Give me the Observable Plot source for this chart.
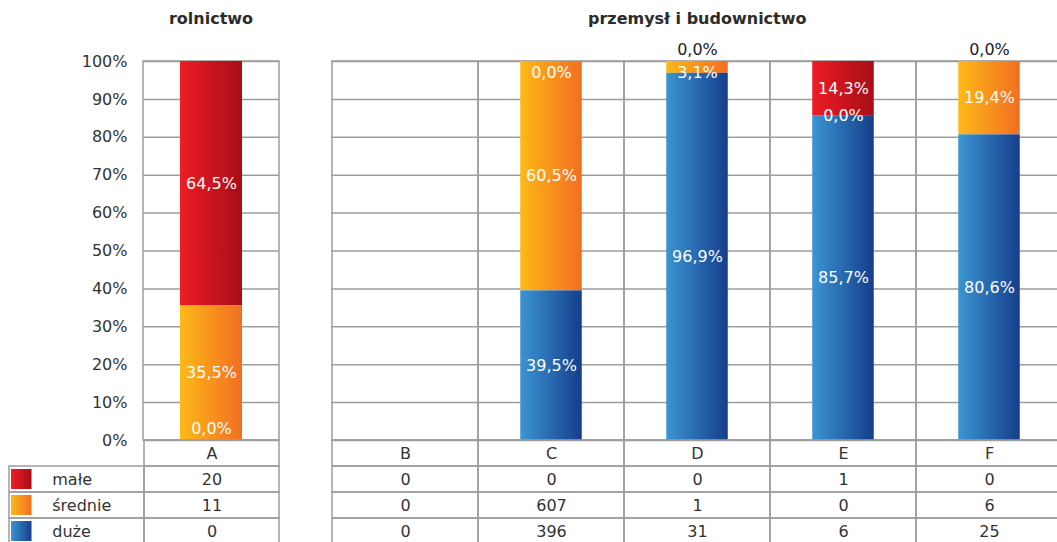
<!DOCTYPE html>
<html><head><meta charset="utf-8">
<script src="https://cdn.jsdelivr.net/npm/d3@7"></script>
<script src="https://cdn.jsdelivr.net/npm/@observablehq/plot@0.6"></script>
<style>
html,body{margin:0;padding:0;background:#fff;overflow:hidden;}
#root{position:relative;width:1057px;height:542px;overflow:hidden;font-family:"DejaVu Sans",sans-serif;}
.title{position:absolute;top:9px;font-weight:bold;font-size:16px;color:#2b2b2b;text-align:center;line-height:19px;}
#root svg.plot, #root svg{max-width:none !important;}
.pos{position:absolute;}
</style></head><body>
<div id="root">
<svg width="0" height="0" style="position:absolute;left:0;top:0">
<defs>
<linearGradient id="gMale" x1="0" x2="1" y1="0" y2="0"><stop offset="0" stop-color="#ee1c25"/><stop offset="1" stop-color="#a60e17"/></linearGradient>
<linearGradient id="gSrednie" x1="0" x2="1" y1="0" y2="0"><stop offset="0" stop-color="#fdb918"/><stop offset="1" stop-color="#f26e22"/></linearGradient>
<linearGradient id="gDuze" x1="0" x2="1" y1="0" y2="0"><stop offset="0" stop-color="#3b95d3"/><stop offset="1" stop-color="#153e8b"/></linearGradient>
</defs></svg>
</div>
<script>
// ---- data ----
const categories = ["A", "B", "C", "D", "E", "F"];
const leftCategories = ["A"];
const rightCategories = ["B", "C", "D", "E", "F"];
const series = ["małe", "średnie", "duże"];
const male = [20, 0, 0, 0, 1, 0];
const srednie = [11, 0, 607, 1, 0, 6];
const duze = [0, 0, 396, 31, 6, 25];
const yTicks = [0, 10, 20, 30, 40, 50, 60, 70, 80, 90, 100];
const titles = ["rolnictwo", "przemysł i budownictwo"];
const zeroLabelAbove = ["D", "F"];

// ---- derived ----
const counts = {"małe": male, "średnie": srednie, "duże": duze};
const fills = {"małe": "url(#gMale)", "średnie": "url(#gSrednie)", "duże": "url(#gDuze)"};
const stackOrder = ["duże", "średnie", "małe"];
const segs = [];
categories.forEach((c, i) => {
  const total = male[i] + srednie[i] + duze[i];
  if (!total) return;
  let acc = 0;
  for (const s of stackOrder) {
    const p = counts[s][i] / total * 100;
    segs.push({cat: c, series: s, y1: acc, y2: acc + p, pct: p});
    acc += p;
  }
});
const fmt = v => v.toFixed(1).replace(".", ",") + "%";
const isAbove = d => d.series === "małe" && d.pct === 0 && zeroLabelAbove.includes(d.cat);
const labelY = d => Math.max(3, Math.min(97, (d.y1 + d.y2) / 2));

const GRID = "#9d9d9d";
const FONT = "DejaVu Sans";

function chart(cats, {width, marginLeft, marginRight, yAxis}) {
  const data = segs.filter(d => cats.includes(d.cat));
  const band = (width - marginLeft - marginRight) / cats.length;
  const inset = (band - 62) / 2;
  return Plot.plot({
    width, height: 450, marginLeft, marginRight, marginTop: 61, marginBottom: 10,
    x: {domain: cats, padding: 0, axis: null},
    y: {domain: [0, 100], axis: yAxis ? undefined : null},
    style: {fontFamily: FONT, fontSize: "16px", background: "transparent", overflow: "visible", color: "#333"},
    marks: [
      Plot.ruleY(yTicks, {stroke: GRID, strokeWidth: 1.5}),
      Plot.barY(cats, {x: d => d, y1: 0, y2: 100, fill: "none", stroke: GRID, strokeWidth: 1.5}),
      yAxis ? Plot.axisY(yTicks, {tickSize: 0, tickPadding: 16, tickFormat: d => d + "%", label: null, fontSize: 16, fill: "#333"}) : null,
      ...series.map(s => Plot.barY(data.filter(d => d.series === s), {
        x: "cat", y1: "y1", y2: "y2", fill: fills[s], insetLeft: inset, insetRight: inset
      })),
      Plot.text(data.filter(d => !isAbove(d)), {x: "cat", y: labelY, text: d => fmt(d.pct), fill: "white", fontSize: 16}),
      Plot.text(data.filter(isAbove), {x: "cat", y: 100, dy: -12, text: d => fmt(d.pct), fill: "#222", fontSize: 16})
    ]
  });
}

function table(cols, legend, {width, marginLeft, marginRight}) {
  const rows = ["hdr", ...series];
  const cells = [];
  cols.forEach(c => {
    const i = categories.indexOf(c);
    cells.push({col: c, row: "hdr", text: c});
    series.forEach(s => cells.push({col: c, row: s, text: String(counts[s][i])}));
  });
  const legCells = legend ? series.map(s => ({col: "leg", row: s, text: s})) : [];
  const xDomain = legend ? ["leg", ...cols] : cols;
  const band = (width - marginLeft - marginRight) / xDomain.length;
  return Plot.plot({
    width, height: 110, marginTop: 1, marginBottom: 5, marginLeft, marginRight,
    x: {domain: xDomain, padding: 0, axis: null},
    y: {domain: rows, padding: 0, axis: null},
    style: {fontFamily: FONT, fontSize: "16px", background: "transparent", overflow: "visible"},
    marks: [
      Plot.cell([...cells, ...legCells], {x: "col", y: "row", fill: "none", stroke: GRID, strokeWidth: 1.5}),
      Plot.text(cells, {x: "col", y: "row", text: "text", fill: "#333", fontSize: 16}),
      ...(legend ? series.map(s => Plot.cell([s], {
        x: () => "leg", y: d => d, fill: fills[s],
        insetLeft: 2, insetRight: band - 23, insetTop: 3, insetBottom: 3
      })) : []),
      legend ? Plot.text(legCells, {x: "col", y: "row", text: "text", fill: "#333", fontSize: 16,
        textAnchor: "start", dx: 51 - (marginLeft + band / 2)}) : null
    ]
  });
}

const root = document.getElementById("root");
function place(el, left, top) {
  el.classList.add("pos");
  el.style.left = left + "px";
  el.style.top = top + "px";
  el.style.maxWidth = "none";
  root.appendChild(el);
}
place(chart(leftCategories, {width: 300, marginLeft: 143, marginRight: 21, yAxis: true}), 0, 0);
place(chart(rightCategories, {width: 770, marginLeft: 31, marginRight: 6.5, yAxis: false}), 300, 0);
place(table(leftCategories, true, {width: 300, marginLeft: 8, marginRight: 21}), 0, 439);
place(table(rightCategories, false, {width: 770, marginLeft: 31, marginRight: 6.5}), 300, 439);

const t1 = document.createElement("div");
t1.className = "title"; t1.textContent = titles[0];
t1.style.left = "143px"; t1.style.width = "136px";
root.appendChild(t1);
const t2 = document.createElement("div");
t2.className = "title"; t2.textContent = titles[1];
t2.style.left = "331px"; t2.style.width = "732.5px";
root.appendChild(t2);
</script>
</body></html>
